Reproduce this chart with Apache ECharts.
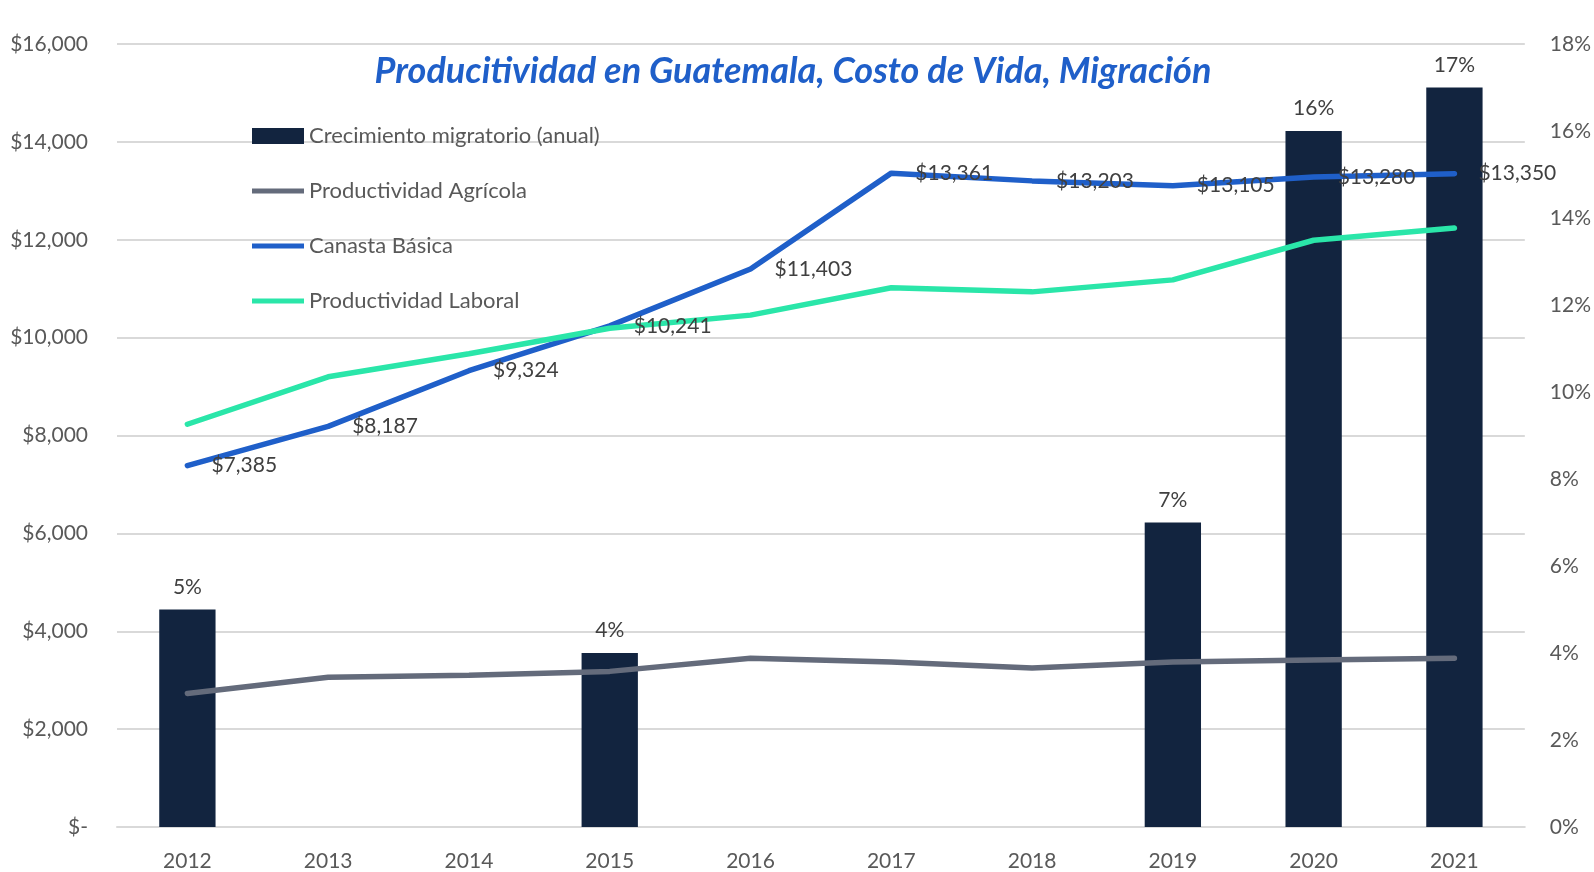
<!DOCTYPE html>
<html>
<head>
<meta charset="utf-8">
<script src="https://cdn.jsdelivr.net/npm/echarts@6/dist/echarts.min.js"></script>
<style>
  html, body { margin: 0; padding: 0; background: #fff; }
  #chart { width: 1594px; height: 872px; }
</style>
</head>
<body>
<div id="chart"></div>
<script>
var years = ['2012', '2013', '2014', '2015', '2016', '2017', '2018', '2019', '2020', '2021'];
// porcentaje anual (eje derecho)
var migracion = [5, '-', '-', 4, '-', '-', '-', 7, 16, 17];
var agricola = [2730, 3060, 3100, 3180, 3450, 3370, 3250, 3370, 3410, 3450];
var canasta = [7385, 8187, 9324, 10241, 11403, 13361, 13203, 13105, 13280, 13350];
var laboral = [8230, 9200, 9670, 10190, 10460, 11020, 10935, 11180, 11990, 12240];

var font = 'Lato, "Open Sans", sans-serif';
var lineIcon = 'path://M0,0 L52,0 L52,5 L0,5 Z';

function money(v) {
  if (v === 0) return '$-';
  return '$' + v.toString().replace(/\B(?=(\d{3})+(?!\d))/g, ',');
}

var chart = echarts.init(document.getElementById('chart'));
chart.setOption({
  backgroundColor: '#fff',
  textStyle: { fontFamily: font },
  title: {
    text: 'Producitividad en Guatemala, Costo de Vida, Migración',
    left: 788, top: 48, textAlign: 'center',
    textStyle: { fontSize: 36, fontWeight: 'bold', fontStyle: 'italic', color: '#1f5fc9', fontFamily: font }
  },
  legend: {
    orient: 'vertical',
    left: 247, top: 120,
    itemGap: 33, itemWidth: 52, itemHeight: 16,
    textStyle: { fontSize: 22, color: '#595959', fontFamily: font },
    data: [
      { name: 'Crecimiento migratorio (anual)', icon: 'rect' },
      { name: 'Productividad Agrícola', icon: lineIcon },
      { name: 'Canasta Básica', icon: lineIcon },
      { name: 'Productividad Laboral', icon: lineIcon }
    ]
  },
  grid: { left: 117, right: 69, top: 44, bottom: 43 },
  xAxis: {
    type: 'category', data: years,
    axisLine: { lineStyle: { color: '#d9d9d9', width: 2 } },
    axisTick: { show: false },
    axisLabel: { fontSize: 21, color: '#595959', margin: 24, fontFamily: font }
  },
  yAxis: [{
    type: 'value', min: 0, max: 16000, interval: 2000,
    axisLabel: { fontSize: 21, color: '#595959', margin: 29, formatter: money, fontFamily: font },
    splitLine: { lineStyle: { color: '#d9d9d9', width: 2 } }
  }, {
    type: 'value', min: 0, max: 18, interval: 2,
    axisLabel: { fontSize: 21, color: '#595959', margin: 25, formatter: '{value}%', fontFamily: font },
    splitLine: { show: false }
  }],
  series: [{
    name: 'Crecimiento migratorio (anual)', type: 'bar', yAxisIndex: 1,
    data: migracion, barWidth: '40%',
    itemStyle: { color: '#12243f' },
    label: { show: true, position: 'top', distance: 12, formatter: '{c}%', fontSize: 21, color: '#404040', fontFamily: font }
  }, {
    name: 'Productividad Agrícola', type: 'line', data: agricola,
    symbol: 'none', lineStyle: { color: '#646b7b', width: 5.5, cap: 'round' }, itemStyle: { color: '#646b7b' }
  }, {
    name: 'Canasta Básica', type: 'line', data: canasta,
    symbol: 'circle', symbolSize: 0, showSymbol: true,
    lineStyle: { color: '#1f5fc9', width: 5.5, cap: 'round' }, itemStyle: { color: '#1f5fc9' },
    label: { show: true, position: 'right', distance: 24, offset: [0, 2], formatter: function (p) { return money(p.value); }, fontSize: 21, color: '#404040', fontFamily: font },
    labelLayout: { hideOverlap: false }
  }, {
    name: 'Productividad Laboral', type: 'line', data: laboral,
    symbol: 'none', lineStyle: { color: '#2ae6a9', width: 5.5, cap: 'round' }, itemStyle: { color: '#2ae6a9' }
  }]
});
</script>
</body>
</html>
